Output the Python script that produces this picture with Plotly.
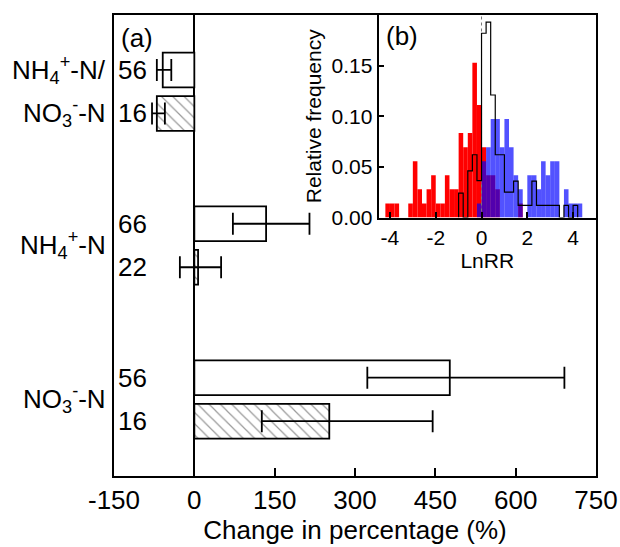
import plotly.graph_objects as go

# ---------------- Panel (a) data ----------------
group_labels = ["NH<sub>4</sub><sup>+</sup>-N/", "NO<sub>3</sub><sup>-</sup>-N",
                "NH<sub>4</sub><sup>+</sup>-N", "NO<sub>3</sub><sup>-</sup>-N"]
n_labels = ["56", "16", "66", "22", "56", "16"]
change = [-59, -70, 134, 7, 477, 252]
ci_low = [-70, -79, 72, -27, 323, 126]
ci_high = [-43, -55, 215, 50, 691, 445]
hatched = [False, True, False, True, False, True]
x_ticks = [-150, 0, 150, 300, 450, 600, 750]
x_tick_text = ["-150", "0", "150", "300", "450", "600", "750"]

# ---------------- Panel (b) data (relative frequency of LnRR) ----------------
unit = 0.0139
red_x = [-4.1, -3.9, -3.7, -3.1, -2.9, -2.7, -2.5, -2.3, -2.1, -1.9, -1.7, -1.5,
         -1.3, -1.1, -0.9, -0.7, -0.5, -0.3, -0.1, 0.1, 0.3, 0.5, 0.7, 1.7]
red_counts = [1, 1, 1, 1, 4, 2, 1, 2, 3, 1, 1, 3,
              2, 2, 6, 5, 6, 11, 8, 5, 3, 3, 2, 1]
blue_x = [-0.1, 0.1, 0.3, 0.5, 0.7, 0.9, 1.1, 1.3, 1.5, 1.7, 2.1, 2.3, 2.5,
          2.7, 2.9, 3.1, 3.3, 3.7, 3.9, 4.1, 4.3]
blue_counts = [1, 4, 5, 7, 7, 5, 7, 5, 3, 2, 3, 3, 2,
               4, 3, 4, 4, 2, 1, 1, 1]
black_x = [-0.9, -0.7, -0.5, -0.3, -0.1, 0.1, 0.3, 0.5, 0.7, 0.9, 1.1, 1.3, 1.5,
           1.7, 1.9, 2.1, 2.3, 2.5, 2.7, 2.9, 3.1, 3.3, 3.5, 3.7, 3.9, 4.1]
black_freq = [0.024, 0.0, 0.046, 0.062, 0.0365, 0.182, 0.193, 0.121, 0.062, 0.062,
              0.025, 0.025, 0.036, 0.012, 0.012, 0.012, 0.036, 0.012, 0.012, 0.012,
              0.012, 0.012, 0.0, 0.012, 0.0, 0.012]
b_xticks = [-4, -2, 0, 2, 4]
b_xtick_text = ["-4", "-2", "0", "2", "4"]
b_yticks = [0.0, 0.05, 0.10, 0.15]
b_ytick_text = ["0.00", "0.05", "0.10", "0.15"]

# ---------------- layout constants ----------------
bar_pos = [1.264, 2.264, 4.80, 5.80, 8.34, 9.34]
group_pos = [1.264, 2.264, 5.30, 8.84]
bin_w = 0.2
FONT = "Arial, Liberation Sans, sans-serif"

red_freq = [c * unit for c in red_counts]
blue_freq = [c * unit for c in blue_counts]

fig = go.Figure()

fig.add_trace(go.Bar(
    x=change, y=bar_pos, orientation="h", width=0.8,
    marker=dict(color="white", line=dict(color="black", width=1.8),
                pattern=dict(shape=["\\" if h else "" for h in hatched],
                             fgcolor="#333", bgcolor="white", size=8, solidity=0.15)),
    error_x=dict(type="data", symmetric=False,
                 array=[h - v for h, v in zip(ci_high, change)],
                 arrayminus=[v - l for v, l in zip(change, ci_low)],
                 color="black", thickness=1.8, width=11),
    xaxis="x", yaxis="y", showlegend=False))

# inset histograms
fig.add_trace(go.Bar(x=red_x, y=red_freq, width=bin_w, marker=dict(color="#ff0000", line=dict(width=0)),
                     xaxis="x2", yaxis="y2", showlegend=False))
fig.add_trace(go.Bar(x=blue_x, y=blue_freq, width=bin_w, marker=dict(color="rgba(0,0,255,0.68)", line=dict(width=0)),
                     xaxis="x2", yaxis="y2", showlegend=False))
fig.add_trace(go.Scatter(x=[0, 0], y=[0, 0.2], mode="lines",
                         line=dict(color="#777", width=1, dash="dot"),
                         xaxis="x2", yaxis="y2", showlegend=False))
lefts = [c - bin_w / 2 for c in black_x]
step_x = [lefts[0]] + lefts + [black_x[-1] + bin_w / 2]
step_y = [0] + black_freq + [0]
fig.add_trace(go.Scatter(x=step_x, y=step_y, mode="lines", line=dict(color="black", width=1.2, shape="hv"),
                         xaxis="x2", yaxis="y2", showlegend=False))

axis_common = dict(showline=True, linecolor="black", linewidth=1.8, mirror=True, automargin=False,
                   showgrid=False, ticks="inside", tickcolor="black", tickwidth=1.8)

annotations = [dict(text="(a)", x=119 / 620, y=(547 - 38) / 547, xref="paper", yref="paper",
                    xanchor="left", yanchor="middle", showarrow=False, font=dict(size=26, family=FONT, color="black")),
               dict(text="(b)", x=384 / 620, y=(547 - 36) / 547, xref="paper", yref="paper",
                    xanchor="left", yanchor="middle", showarrow=False, font=dict(size=26, family=FONT, color="black"))]
for lab, p in zip(n_labels, bar_pos):
    annotations.append(dict(text=lab, x=-147, y=p, xref="x", yref="y", xanchor="left", yanchor="middle",
                            showarrow=False, font=dict(size=26, family=FONT, color="black")))
for lab, p in zip(group_labels, group_pos):
    annotations.append(dict(text=lab, x=108 / 620, y=p, xref="paper", yref="y", xanchor="right", yanchor="middle",
                            showarrow=False, font=dict(size=26, family=FONT, color="black")))

fig.update_layout(
    width=620, height=547, margin=dict(l=0, r=0, t=0, b=0, autoexpand=False),
    paper_bgcolor="white", plot_bgcolor="white", barmode="overlay",
    font=dict(family=FONT, color="black"),
    xaxis=dict(domain=[114 / 620, 596 / 620], range=[-150, 750], tickvals=x_ticks, ticktext=x_tick_text,
               ticklen=8, zeroline=True, zerolinecolor="black", zerolinewidth=1.8, anchor="y",
               tickfont=dict(size=26), title=dict(text="Change in percentage (%)", font=dict(size=26), standoff=6),
               **axis_common),
    yaxis=dict(domain=[71 / 547, 532 / 547], range=[10.6, 0], showticklabels=False, zeroline=False,
               anchor="x", **{k: v for k, v in axis_common.items() if k != "ticks"}, ticks=""),
    xaxis2=dict(domain=[378.5 / 620, 596 / 620], range=[-4.5, 5.0], tickvals=b_xticks, ticktext=b_xtick_text,
                ticklen=6, zeroline=False, anchor="y2", tickfont=dict(size=21),
                title=dict(text="LnRR", font=dict(size=21), standoff=0), **axis_common),
    yaxis2=dict(domain=[329.5 / 547, 532 / 547], range=[0, 0.2], tickvals=b_yticks, ticktext=b_ytick_text,
                ticklen=6, zeroline=False, anchor="x2", tickfont=dict(size=21),
                title=dict(text="Relative frequency", font=dict(size=21), standoff=4), **axis_common),
    annotations=annotations,
)

fig.write_html("out.html", config={"displayModeBar": False},
               post_script="document.body.style.margin='0';document.body.style.overflow='hidden';")
